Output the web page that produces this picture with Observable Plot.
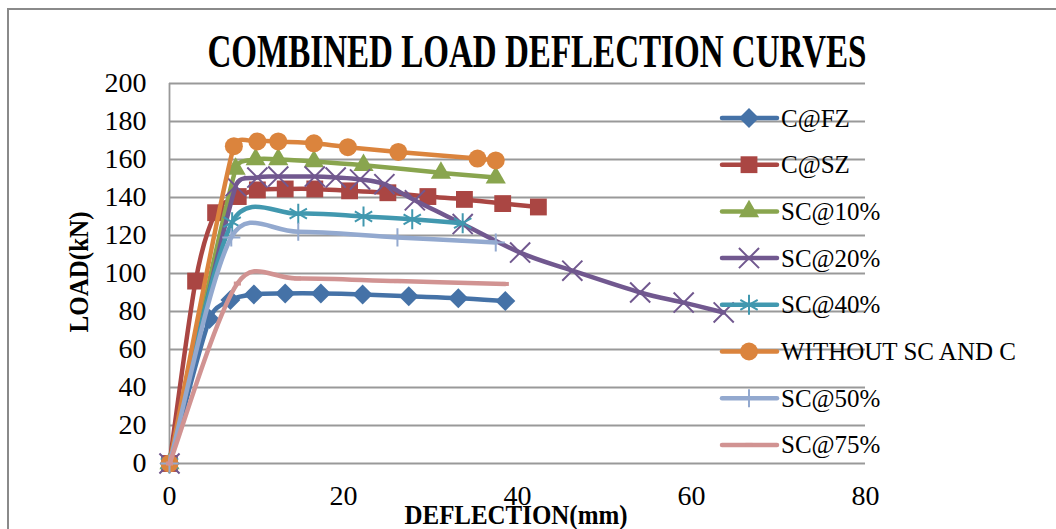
<!DOCTYPE html>
<html><head><meta charset="utf-8">
<script src="https://cdn.jsdelivr.net/npm/d3@7"></script>
<script src="https://cdn.jsdelivr.net/npm/@observablehq/plot@0.6"></script>
<style>
html,body{margin:0;padding:0;background:#fff;}
#wrap{position:relative;width:1056px;height:529px;overflow:hidden;}
#frame{position:absolute;left:7px;top:8px;width:1100px;height:600px;border:2px solid #8a8a8a;box-sizing:border-box;}
#chart{position:absolute;left:0;top:0;}
#over{position:absolute;left:0;top:0;pointer-events:none;}
</style></head><body>
<div id="wrap"><div id="frame"></div><div id="chart"></div><svg id="over" width="1056" height="529"></svg></div>
<script>
// ---- data ----
const seriesNames = ["C@FZ","C@SZ","SC@10%","SC@20%","SC@40%","WITHOUT SC AND C","SC@50%","SC@75%"];
const xTicks = [0,20,40,60,80];
const yTicks = [0,20,40,60,80,100,120,140,160,180,200];

const fzX = [0,4.6,7.0,9.7,13.3,17.4,22.2,27.5,33.2,38.6];
const fzY = [0,76,86,89,89.5,89.5,89,88,87,85.5];
const szX = [0,3.0,5.3,7.9,10.1,13.3,16.7,20.7,25.1,29.7,33.9,38.3,42.4];
const szY = [0,96,132,140.5,144,144.5,144.5,143.5,142.5,140.5,139,136.8,135];
const sc10X = [0,7.6,9.9,12.5,16.6,22.3,31.2,37.5];
const sc10Y = [0,155,160,160,159,157,153,150.5];
const sc20X = [0,7.6,10.1,12.5,16.7,19.1,21.9,24.7,28.2,33.7,40.3,46.3,54.1,59.1,63.7];
const sc20Y = [0,146,150.5,151,151,150.5,149.5,147,138.5,126,111,101.5,90,84.7,79.5];
const sc40X = [0,7.2,14.8,22.3,27.9,33.7];
const sc40Y = [0,127,131.5,130,128.5,126.5];
const woX = [0,7.4,10.1,12.5,16.6,20.5,26.3,35.4,37.5];
const woY = [0,167,169.5,169.5,168.5,166.5,164,160.5,159.5];
const sc50X = [0,7.1,14.8,26.2,37.5];
const sc50Y = [0,119,122,119,116.3];
const sc75X = [0,7.8,14.7,26.2,38.6];
const sc75Y = [0,94.7,97.4,96,94.5];

const seriesX = [fzX,szX,sc10X,sc20X,sc40X,woX,sc50X,sc75X];
const seriesY = [fzY,szY,sc10Y,sc20Y,sc40Y,woY,sc50Y,sc75Y];
const colors = ["#4572A7","#AA4643","#89A54E","#71588F","#4198AF","#DB843D","#93A9CF","#D19392"];

// ---- Excel-like smoothed line (Bezier, 1/6 tangents capped at half segment length) ----
function ExcelCurve(context){ this._context = context; }
ExcelCurve.prototype = {
  areaStart(){}, areaEnd(){},
  lineStart(){ this._pts = []; },
  point(x,y){ this._pts.push([+x,+y]); },
  lineEnd(){
    const p = this._pts, c = this._context, n = p.length;
    if (!n) return;
    c.moveTo(p[0][0], p[0][1]);
    if (n === 2) { c.lineTo(p[1][0], p[1][1]); return; }
    const dist = (a,b)=>Math.hypot(a[0]-b[0], a[1]-b[1]);
    for (let i = 0; i < n-1; i++) {
      const p0 = p[i-1] || p[i], p1 = p[i], p2 = p[i+1], p3 = p[i+2] || p[i+1];
      const d12 = dist(p1,p2), d02 = dist(p0,p2), d13 = dist(p1,p3);
      const f1 = d02 > 0 ? Math.min(1/6, d12/(2*d02)) : 0;
      const f2 = d13 > 0 ? Math.min(1/6, d12/(2*d13)) : 0;
      c.bezierCurveTo(p1[0] + (p2[0]-p0[0])*f1, p1[1] + (p2[1]-p0[1])*f1,
                      p2[0] - (p3[0]-p1[0])*f2, p2[1] - (p3[1]-p1[1])*f2,
                      p2[0], p2[1]);
    }
  }
};
const excelCurve = (context) => new ExcelCurve(context);

// ---- styles ----
const dash = {draw(ctx, size){ const r = Math.sqrt(size)/2; ctx.moveTo(-r,0); ctx.lineTo(r,0); }};
const symbols = [d3.symbolDiamond2, d3.symbolSquare, d3.symbolTriangle, d3.symbolTimes, d3.symbolAsterisk, d3.symbolCircle, d3.symbolPlus, dash];
const radii = [9, 9.5, 7.5, 9.2, 9.5, 9, 5.9, 4];
const filled = [true,true,true,false,false,true,false,false];
const markerStroke = [0,0,0,2,2,0,2,4];

const rows = seriesNames.map((name,i)=> seriesX[i].map((x,j)=>({series:name, x, y:seriesY[i][j]})));

const marks = [
  Plot.gridY(yTicks, {stroke:"#999", strokeOpacity:1, strokeWidth:1.8}),
  Plot.ruleX([xTicks[0]], {stroke:"#999", strokeWidth:1.8})
];
rows.forEach((data,i)=>{
  marks.push(Plot.line(data, {x:"x", y:"y", stroke:colors[i], strokeWidth:4.5, curve:excelCurve, strokeLinecap:"round", strokeLinejoin:"round"}));
  if (filled[i]) marks.push(Plot.dot(data, {x:"x", y:"y", symbol:()=>symbols[i], r:radii[i], fill:colors[i], stroke:"none"}));
  else marks.push(Plot.dot(data, {x:"x", y:"y", symbol:()=>symbols[i], r:radii[i], fill:"none", stroke:colors[i], strokeWidth:markerStroke[i]}));
});

const chart = Plot.plot({
  width:1056, height:529,
  marginLeft:169, marginRight:191, marginTop:83, marginBottom:66,
  x:{domain:[xTicks[0], xTicks[xTicks.length-1]], ticks:xTicks, tickSize:0, tickPadding:22, label:null},
  y:{domain:[yTicks[0], yTicks[yTicks.length-1]], ticks:yTicks, tickSize:0, tickPadding:23, label:null},
  symbol:{type:"identity"},
  style:{fontFamily:"'Liberation Serif', serif", fontSize:"28px", color:"#000", background:"transparent", overflow:"visible"},
  marks
});
document.getElementById("chart").appendChild(chart);

// ---- overlay: title, axis titles, legend ----
const over = d3.select("#over");
over.append("text").attr("x",537).attr("y",67).attr("text-anchor","middle")
  .attr("font-family","'Liberation Serif', serif").attr("font-weight","bold").attr("font-size",46)
  .attr("textLength",659).attr("lengthAdjust","spacingAndGlyphs").text("COMBINED LOAD DEFLECTION CURVES");
over.append("text").attr("x",516).attr("y",524).attr("text-anchor","middle")
  .attr("font-family","'Liberation Serif', serif").attr("font-weight","bold").attr("font-size",28)
  .attr("textLength",223).attr("lengthAdjust","spacingAndGlyphs").text("DEFLECTION(mm)");
over.append("text").attr("transform","translate(88,272) rotate(-90)").attr("text-anchor","middle")
  .attr("font-family","'Liberation Serif', serif").attr("font-weight","bold").attr("font-size",27)
  .attr("textLength",121).attr("lengthAdjust","spacingAndGlyphs").text("LOAD(kN)");

seriesNames.forEach((name,i)=>{
  const cy = 118 + i*46.7;
  const g = over.append("g");
  g.append("line").attr("x1",722).attr("x2",777).attr("y1",cy).attr("y2",cy)
    .attr("stroke",colors[i]).attr("stroke-width",4.5).attr("stroke-linecap","round");
  const size = Math.PI*radii[i]*radii[i];
  const p = g.append("path").attr("transform",`translate(749,${cy})`).attr("d", d3.symbol(symbols[i], size)());
  if (filled[i]) p.attr("fill",colors[i]);
  else p.attr("fill","none").attr("stroke",colors[i]).attr("stroke-width",markerStroke[i]);
  g.append("text").attr("x",781).attr("y",cy).attr("dy","0.34em")
    .attr("font-family","'Liberation Serif', serif").attr("font-size",25).attr("fill","#000").text(name);
});
</script>
</body></html>
